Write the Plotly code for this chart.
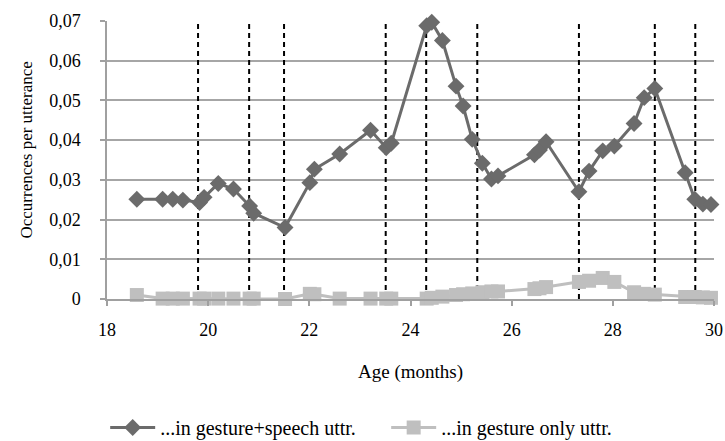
import plotly.graph_objects as go

# Age (months) of each recording
age = [18.59, 19.10, 19.30, 19.50, 19.83, 19.92, 20.20, 20.50, 20.82, 20.90,
       21.52, 22.01, 22.10, 22.60, 23.21, 23.52, 23.62, 24.32, 24.42, 24.63,
       24.90, 25.04, 25.22, 25.42, 25.60, 25.73, 26.45, 26.55, 26.68, 27.33,
       27.53, 27.80, 28.03, 28.42, 28.62, 28.83, 29.43, 29.62, 29.78, 29.94]

gesture_speech = [0.0251, 0.0251, 0.0251, 0.0249, 0.0243, 0.0256, 0.0291, 0.0277, 0.0234, 0.0216,
                  0.0180, 0.0293, 0.0327, 0.0365, 0.0425, 0.0381, 0.0392, 0.0688, 0.0697, 0.0651,
                  0.0536, 0.0486, 0.0402, 0.0342, 0.0302, 0.0310, 0.0363, 0.0375, 0.0396, 0.0270,
                  0.0322, 0.0373, 0.0385, 0.0442, 0.0507, 0.0530, 0.0318, 0.0251, 0.0239, 0.0238]

gesture_only = [0.0010, 0.0001, 0.0001, 0.0001, 0.0001, 0.0001, 0.0001, 0.0001, 0.0001, 0.0001,
                0.0000, 0.0013, 0.0012, 0.0001, 0.0001, 0.0001, 0.0001, 0.0001, 0.0003, 0.0006,
                0.0010, 0.0012, 0.0014, 0.0017, 0.0019, 0.0019, 0.0025, 0.0027, 0.0030, 0.0043,
                0.0046, 0.0053, 0.0043, 0.0017, 0.0013, 0.0011, 0.0005, 0.0005, 0.0004, 0.0003]

# dashed vertical reference lines (months)
boundaries = [19.80, 20.81, 21.50, 23.51, 24.31, 25.32, 27.33, 28.83, 29.63]

y_tickvals = [0, 0.01, 0.02, 0.03, 0.04, 0.05, 0.06, 0.07]
y_ticktext = ["0", "0,01", "0,02", "0,03", "0,04", "0,05", "0,06", "0,07"]
x_tickvals = [18, 20, 22, 24, 26, 28, 30]

FONT = "'Liberation Serif', 'DejaVu Serif', 'Times New Roman', serif"

fig = go.Figure()

fig.add_trace(go.Scatter(
    x=age, y=gesture_speech, mode="lines+markers",
    name="...in gesture+speech uttr.",
    line=dict(color="#6b6b6b", width=3),
    marker=dict(symbol="diamond", size=13, color="#6b6b6b"),
    cliponaxis=False,
))
fig.add_trace(go.Scatter(
    x=age, y=gesture_only, mode="lines+markers",
    name="...in gesture only uttr.",
    line=dict(color="#bfbfbf", width=3),
    marker=dict(symbol="square", size=14, color="#bfbfbf"),
    cliponaxis=False,
))

for b in boundaries:
    fig.add_shape(type="line", xref="x", yref="y", x0=b, x1=b, y0=0, y1=0.07,
                  line=dict(color="black", width=2, dash="5px,4px"), layer="between")

# axis titles
fig.add_annotation(text="Age (months)", xref="paper", yref="paper", x=0.5, y=-0.262,
                   xanchor="center", yanchor="middle", showarrow=False,
                   font=dict(family=FONT, size=19, color="black"))
fig.add_annotation(text="Occurrences per utterance", xref="paper", yref="paper",
                   x=-0.133, y=0.535, xanchor="center", yanchor="middle", textangle=-90,
                   showarrow=False, font=dict(family=FONT, size=17, color="black"))

fig.update_layout(
    width=725, height=441,
    margin=dict(l=107, r=11, t=21, b=142, autoexpand=False),
    paper_bgcolor="white", plot_bgcolor="white",
    font=dict(family=FONT, size=18, color="black"),
    showlegend=True,
    legend=dict(orientation="h", x=-0.003, xanchor="left", y=-0.462, yanchor="middle",
                font=dict(family=FONT, size=20), itemwidth=45,
                entrywidth=221, entrywidthmode="pixels",
                bgcolor="rgba(0,0,0,0)"),
    xaxis=dict(range=[18, 30], tickvals=x_tickvals, showgrid=False, automargin=False,
               showline=True, linecolor="#a0a0a0", linewidth=1.5,
               ticks="outside", ticklen=5, tickcolor="#a0a0a0", tickwidth=1.5,
               zeroline=False, ticklabelstandoff=9,
               tickfont=dict(family=FONT, size=18)),
    yaxis=dict(range=[0, 0.07], tickvals=y_tickvals, ticktext=y_ticktext,
               showgrid=True, gridcolor="#a6a6a6", gridwidth=1.5, automargin=False,
               showline=True, linecolor="#a0a0a0", linewidth=1.5,
               ticks="outside", ticklen=5, tickcolor="#a0a0a0", tickwidth=1.5,
               zeroline=False, ticklabelstandoff=16,
               tickfont=dict(family=FONT, size=18)),
)

fig.write_html("out.html", config={"displayModeBar": False},
               post_script="document.body.style.margin='0';document.body.style.overflow='hidden';")
